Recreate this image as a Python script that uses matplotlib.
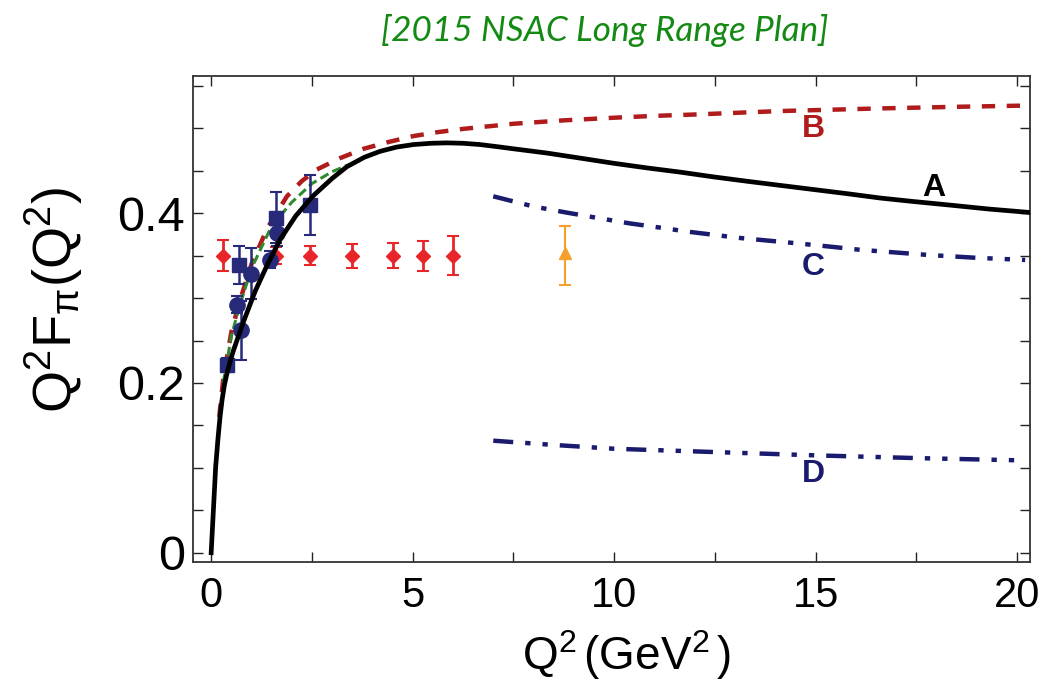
import numpy as np
import matplotlib
matplotlib.use("Agg")
import matplotlib.pyplot as plt

plt.rcParams['font.family'] = ['Liberation Sans', 'DejaVu Sans']
plt.rcParams['mathtext.fontset'] = 'custom'
plt.rcParams['mathtext.rm'] = 'Liberation Sans'
plt.rcParams['mathtext.it'] = 'Liberation Sans'
plt.rcParams['mathtext.sf'] = 'Liberation Sans'

# curve A (black solid)
a_q2 = [0, 0.055, 0.11, 0.17, 0.22, 0.27, 0.33, 0.4, 0.48, 0.55, 0.8, 1.09, 1.38, 1.71, 2.1,
        2.54, 3.0, 3.37, 3.8, 4.19, 4.6, 5.02, 5.45, 5.85, 6.25, 6.67, 7.1, 7.5, 8.33, 9.16,
        9.98, 10.81, 11.64, 12.45, 13.29, 14.1, 14.95, 15.8, 16.6, 17.4, 18.26, 19.3, 20.3]
a_val = [0, 0.05, 0.1, 0.135, 0.16, 0.18, 0.198, 0.213, 0.227, 0.238, 0.272, 0.308, 0.338,
         0.369, 0.397, 0.421, 0.441, 0.455, 0.466, 0.473, 0.478, 0.481, 0.4825, 0.483,
         0.4825, 0.481, 0.4785, 0.476, 0.471, 0.465, 0.459, 0.4535, 0.4485, 0.443, 0.4378,
         0.433, 0.428, 0.423, 0.418, 0.414, 0.41, 0.405, 0.401]
# curve B (red dashed)
b_q2 = [0.2, 0.3, 0.5, 0.7, 1.0, 1.4, 1.88, 2.25, 2.62, 3.2, 3.78, 4.4, 5.02, 5.6, 6.26,
        7.5, 8.74, 9.98, 11.0, 12.05, 14.12, 16.6, 18.5, 20.3]
b_val = [0.16, 0.205, 0.26, 0.295, 0.34, 0.383, 0.42, 0.438, 0.4515, 0.465, 0.476, 0.484,
         0.491, 0.4955, 0.4995, 0.5055, 0.5095, 0.5126, 0.5148, 0.5165, 0.5205, 0.5236,
         0.5255, 0.527]
# green dashed
g_q2 = [0.3, 0.5, 0.7, 1.0, 1.5, 2.0, 2.5, 3.0, 3.4]
g_val = [0.2, 0.255, 0.29, 0.335, 0.385, 0.413, 0.435, 0.449, 0.457]
# curves C and D (navy dash-dot-dot)
c_q2 = [7.0, 7.5, 8.0, 8.8, 9.65, 10.4, 11.22, 11.8, 13.1, 14.45, 15.3, 16.1, 17.76, 19.0, 20.2]
c_val = [0.42, 0.414, 0.408, 0.401, 0.394, 0.388, 0.3826, 0.3785, 0.371, 0.365, 0.361,
         0.357, 0.351, 0.3475, 0.345]
d_q2 = [7.0, 8.5, 10, 12.5, 15, 17.5, 20.2]
d_val = [0.132, 0.127, 0.1225, 0.1186, 0.1147, 0.1115, 0.1087]

# data points
sq_q2 = [0.40, 0.70, 1.60, 2.45]
sq_val = [0.221, 0.339, 0.395, 0.410]
sq_err = [0.008, 0.022, 0.03, 0.035]
ci_q2 = [0.64, 0.74, 0.99, 1.45, 1.63]
ci_val = [0.292, 0.262, 0.329, 0.345, 0.377]
ci_err = [0.01, 0.035, 0.03, 0.01, 0.015]
dm_q2 = [0.3, 1.6, 2.45, 3.5, 4.5, 5.25, 6.0]
dm_val = [0.35, 0.35, 0.35, 0.35, 0.35, 0.35, 0.35]
dm_err = [0.018, 0.01, 0.011, 0.014, 0.015, 0.0175, 0.023]
tri_q2 = [8.78]
tri_val = [0.353]
tri_lo = [0.037]
tri_hi = [0.032]

labels = ["A", "B", "C", "D"]
label_x = [17.94, 14.95, 14.95, 14.95]
label_y = [0.43, 0.4988, 0.337, 0.093]
label_c = ["black", "#b01c1c", "#1a1a6e", "#1a1a6e"]

navy = "#262a78"
dashdotdot = (4.5, 2.7, 1.2, 2.7, 1.2, 2.7)

fig = plt.figure(figsize=(10.56, 6.89), dpi=100)
ax = fig.add_axes([0.1828, 0.1836, 0.7926, 0.7061])

ax.plot(b_q2, b_val, color="#b01c1c", lw=3.2, dashes=(3.0, 2.6), zorder=2)
ax.plot(g_q2, g_val, color="#2e8b2e", lw=2.2, dashes=(3, 1.5), zorder=2)
ax.plot(c_q2, c_val, color="#1a1a6e", lw=3.2, dashes=dashdotdot, zorder=2)
ax.plot(d_q2, d_val, color="#1a1a6e", lw=3.2, dashes=dashdotdot, zorder=2)

ax.errorbar(dm_q2, dm_val, yerr=dm_err, fmt='D', color="#e8262a", ms=7, capsize=4,
            elinewidth=2, capthick=1.5, zorder=3)
ax.errorbar(tri_q2, tri_val, yerr=[tri_lo, tri_hi], fmt='^', color="#f5a02a", ms=9,
            capsize=4, elinewidth=1.5, capthick=1.5, zorder=3)
ax.errorbar(sq_q2, sq_val, yerr=sq_err, fmt='s', color=navy, ms=10, capsize=4,
            elinewidth=1.8, capthick=1.5, zorder=4)
ax.errorbar(ci_q2, ci_val, yerr=ci_err, fmt='o', color=navy, ms=11, capsize=4,
            elinewidth=1.8, capthick=1.5, zorder=4)

ax.plot(a_q2, a_val, color="black", lw=3.4, zorder=5, solid_joinstyle='round')

for t, x, y, c in zip(labels, label_x, label_y, label_c):
    ax.text(x, y, t, color=c, fontsize=23, fontweight='bold', ha='center', va='center')

ax.set_xlim(-0.45, 20.32)
ax.set_ylim(-0.01155, 0.5618)
ax.set_xticks([0, 5, 10, 15, 20])
ax.set_xticks([2.5, 7.5, 12.5, 17.5], minor=True)
ax.set_yticks([0, 0.2, 0.4])
ax.set_yticklabels(["0", "0.2", "0.4"])
ax.set_yticks([0.05, 0.1, 0.15, 0.25, 0.3, 0.35, 0.45, 0.5, 0.55], minor=True)
ax.tick_params(which='both', direction='in', length=7, width=1, top=True, right=True,
               color="#222222")
ax.tick_params(axis='x', labelsize=30, pad=10)
ax.tick_params(axis='y', labelsize=35, pad=6)
for s in ax.spines.values():
    s.set_linewidth(1.3)
    s.set_color("#333333")

ax.set_xlabel(r"Q$^\mathregular{2}\,$(GeV$^\mathregular{2}\,$)", fontsize=33)
ax.xaxis.set_label_coords(0.518, -0.135)
ax.set_ylabel(r"Q$^\mathregular{2}$F$_\mathregular{\pi}$(Q$^\mathregular{2}$)", fontsize=39)
ax.yaxis.set_label_coords(-0.129, 0.539)

fig.text(0.5724, 0.956, "[2015 NSAC Long Range Plan]", color="#138a13", fontsize=25.3,
         style='italic', family=['Lato', 'DejaVu Sans'], ha='center', va='center')

fig.savefig("out.png", dpi=100)
